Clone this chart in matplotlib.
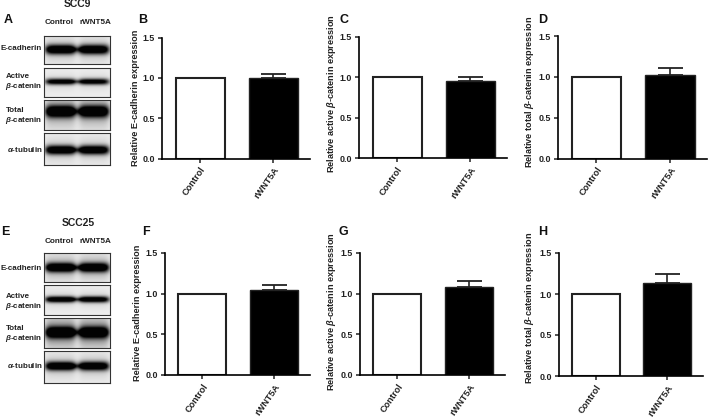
import numpy as np
import matplotlib
matplotlib.use("Agg")
import matplotlib.pyplot as plt

plt.rcParams["font.family"] = ["Liberation Sans", "DejaVu Sans"]
plt.rcParams["font.weight"] = "bold"
plt.rcParams["mathtext.fontset"] = "custom"
plt.rcParams["mathtext.rm"] = "Liberation Sans:bold"
plt.rcParams["mathtext.it"] = "Liberation Sans:italic:bold"
plt.rcParams["mathtext.bf"] = "Liberation Sans:bold"

W, H = 709, 417

# Bar data
groups = ["Control", "rWNT5A"]
control_vals = [1.0, 1.0, 1.0, 1.0, 1.0, 1.0]
rwnt5a_vals = [1.0, 0.955, 1.02, 1.05, 1.085, 1.135]
rwnt5a_err = [0.05, 0.045, 0.085, 0.06, 0.07, 0.115]
y_ticks = [0.0, 0.5, 1.0, 1.5]
y_labels = [
    "Relative E-cadherin expression",
    r"Relative active $\beta$-catenin expression",
    r"Relative total $\beta$-catenin expression",
    "Relative E-cadherin expression",
    r"Relative active $\beta$-catenin expression",
    r"Relative total $\beta$-catenin expression",
]

# pixel boxes of the axes: left, right, top (1.5), bottom (0.0)
boxes = [
    (162, 310, 37.5, 158.5),
    (359, 507, 37, 158),
    (558, 707, 36, 158.5),
    (165, 310, 253, 375),
    (360, 505, 253, 375),
    (559, 703, 253, 376),
]
ylabel_pos = [(136, 98), (331, 94), (529, 92), (138, 313), (332, 312), (529, 308)]

panel_letters = [("A", 8, 20), ("B", 143, 20), ("C", 344, 20), ("D", 543, 20),
                 ("E", 5, 232), ("F", 146, 232), ("G", 343, 232), ("H", 543, 232)]

# Blot strips: pixel rows and band darkness / thickness per strip
blot_rows_top = [(36, 64), (68, 97), (100, 130), (133, 165)]
blot_rows_bottom = [(253, 282), (285, 315), (318, 348), (351, 383)]
band_top = [(1.00, 5.0), (0.85, 3.4), (1.00, 6.5), (1.00, 5.0)]
band_bottom = [(1.00, 5.0), (0.95, 3.4), (0.95, 6.0), (1.00, 4.8)]
band_y_top = [0.50, 0.47, 0.38, 0.53]
band_y_bottom = [0.50, 0.48, 0.48, 0.47]
haze_top = [0.18, 0.10, 0.32, 0.15]
haze_bottom = [0.28, 0.12, 0.48, 0.18]

fig = plt.figure(figsize=(W / 100, H / 100), dpi=100, facecolor="white")


def px_axes(left, right, top, bottom):
    return fig.add_axes([left / W, 1 - bottom / H, (right - left) / W, (bottom - top) / H])


def put(x, y, s, **kw):
    fig.text(x / W, 1 - y / H, s, **kw)


def draw_blot(top, bottom, dark, thick, ypos, haze):
    ax = px_axes(44, 110, top, bottom)
    h = bottom - top
    xx, yy = np.meshgrid(np.linspace(0, 66, 132), np.linspace(0, h, h * 2))
    img = np.zeros_like(xx)
    for cx, hw, d in [(16.5, 15.5, dark), (50, 15.5, dark * 0.97)]:
        across = np.exp(-((xx - cx) / hw) ** 6)
        img += d * across * np.exp(-np.abs((yy - ypos * h) / thick) ** 2.4)
        img += haze * across * np.exp(-((yy - ypos * h) / (thick * 2.4)) ** 2)
    # faint smear joining the two lanes
    img += 0.45 * dark * np.exp(-((xx - 33) / 30) ** 6) * np.exp(-((yy - ypos * h) / (thick * 0.5)) ** 2)
    ax.imshow(0.93 - np.clip(img, 0, 1) * 0.92, cmap="gray", vmin=0, vmax=1,
              aspect="auto", extent=(0, 66, h, 0))
    ax.set_xticks([])
    ax.set_yticks([])
    for s in ax.spines.values():
        s.set_linewidth(0.8)
        s.set_color("#333333")


for row, b, y, hz in zip(blot_rows_top, band_top, band_y_top, haze_top):
    draw_blot(row[0], row[1], b[0], b[1], y, hz)
for row, b, y, hz in zip(blot_rows_bottom, band_bottom, band_y_bottom, haze_bottom):
    draw_blot(row[0], row[1], b[0], b[1], y, hz)

# Bar panels
for i, box in enumerate(boxes):
    ax = px_axes(*box)
    ax.bar(0, control_vals[i], width=0.67, color="white", edgecolor="#222222", linewidth=1.5)
    ax.bar(1, rwnt5a_vals[i], width=0.67, color="black", edgecolor="#222222", linewidth=1.0,
           yerr=[[0], [rwnt5a_err[i]]],
           error_kw=dict(ecolor="#222222", elinewidth=1.2, capsize=9, capthick=1.3))
    ax.set_xlim(-0.52, 1.5)
    ax.set_ylim(0, 1.5)
    ax.set_yticks(y_ticks)
    ax.set_yticklabels(["%.1f" % t for t in y_ticks], fontsize=6.4)
    ax.set_xticks([0, 1])
    ax.set_xticklabels(groups, fontsize=6.6, rotation=55, ha="right", rotation_mode="anchor")
    ax.tick_params(length=3, width=1.1, pad=2, color="#222222", labelcolor="#222222")
    ax.spines["top"].set_visible(False)
    ax.spines["right"].set_visible(False)
    ax.spines["left"].set_linewidth(1.2)
    ax.spines["bottom"].set_linewidth(1.2)
    ax.patch.set_alpha(0)
    put(ylabel_pos[i][0], ylabel_pos[i][1], y_labels[i], fontsize=6.6, rotation=90,
        ha="center", va="center", color="#222222")

# Text around the blots
for s, x, y in panel_letters:
    put(x, y, s, fontsize=9, ha="center", va="center", color="#111111")
put(77, 4, "SCC9", fontsize=7.5, ha="center", va="center", color="#222222")
put(78, 223, "SCC25", fontsize=7.5, ha="center", va="center", color="#222222")
for y in [22, 242]:
    put(59, y, "Control", fontsize=5.9, ha="center", va="center", color="#222222")
    put(95, y, "rWNT5A", fontsize=5.9, ha="center", va="center", color="#222222")
for y1, y2, y3, y4, y5 in [(48, 77, 87, 111, 150), (268, 296, 306, 328, 365)]:
    put(42, y1, "E-cadherin", fontsize=5.8, ha="right", va="center", color="#222222")
    put(6, y2, "Active", fontsize=5.8, ha="left", va="center", color="#222222")
    put(42, y3, r"$\beta$-catenin", fontsize=5.8, ha="right", va="center", color="#222222")
    put(6, y4, "Total", fontsize=5.8, ha="left", va="center", color="#222222")
    put(42, y4 + 10, r"$\beta$-catenin", fontsize=5.8, ha="right", va="center", color="#222222")
    put(43, y5, r"$\alpha$-tubulin", fontsize=5.8, ha="right", va="center", color="#222222")

fig.savefig("out.png", dpi=100)
